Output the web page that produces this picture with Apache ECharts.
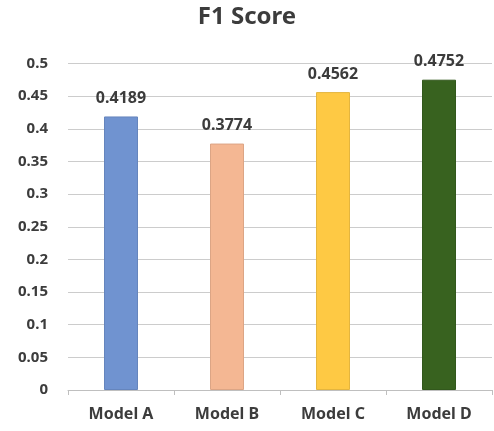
<!DOCTYPE html>
<html><head><meta charset="utf-8">
<script src="https://cdn.jsdelivr.net/npm/echarts@6/dist/echarts.min.js"></script>
<style>html,body{margin:0;padding:0;background:#fff}#c{width:494px;height:431px}</style>
</head><body><div id="c"></div>
<script>
const categories = ["Model A", "Model B", "Model C", "Model D"];
const values = [0.4189, 0.3774, 0.4562, 0.4752];
const barColors = ["#7093d0", "#f4b793", "#fec944", "#38621f"];
const borderColors = ["#6585bd", "#dca585", "#e4b53e", "#32581c"];
const yTicks = { min: 0, max: 0.5, interval: 0.05 };

const chart = echarts.init(document.getElementById('c'), null, {renderer: 'canvas'});
const font = '"Noto Sans", "Open Sans", sans-serif';
chart.setOption({
  animation: false,
  title: { text: 'F1 Score', left: 'center', top: 0,
    textStyle: { fontFamily: font, fontWeight: 'bold', fontSize: 24, color: '#3c3c3c' } },
  grid: { left: 68, right: 2, top: 63.5, bottom: 41, containLabel: false },
  xAxis: { type: 'category', data: categories,
    axisLine: { lineStyle: { color: '#bfbfbf', width: 1 } },
    axisTick: { show: true, length: 5, lineStyle: { color: '#bfbfbf' } },
    axisLabel: { margin: 16, fontFamily: font, fontWeight: 'bold', fontSize: 16, color: '#3c3c3c' } },
  yAxis: { type: 'value', min: yTicks.min, max: yTicks.max, interval: yTicks.interval,
    axisLine: { show: false }, axisTick: { show: false },
    splitLine: { lineStyle: { color: '#cccccc', width: 1 } },
    axisLabel: { margin: 20, fontFamily: font, fontWeight: 'bold', fontSize: 15, color: '#3c3c3c',
      formatter: v => String(parseFloat(v.toFixed(2))) } },
  series: [{ type: 'bar', barWidth: 34,
    data: values.map((v, i) => ({ value: v,
      itemStyle: { color: barColors[i], borderColor: borderColors[i], borderWidth: 1 } })),
    label: { show: true, position: 'top', distance: 10, fontFamily: font, fontWeight: 'bold',
      fontSize: 16, color: '#3c3c3c', formatter: p => p.value.toFixed(4) } }]
});
</script></body></html>
